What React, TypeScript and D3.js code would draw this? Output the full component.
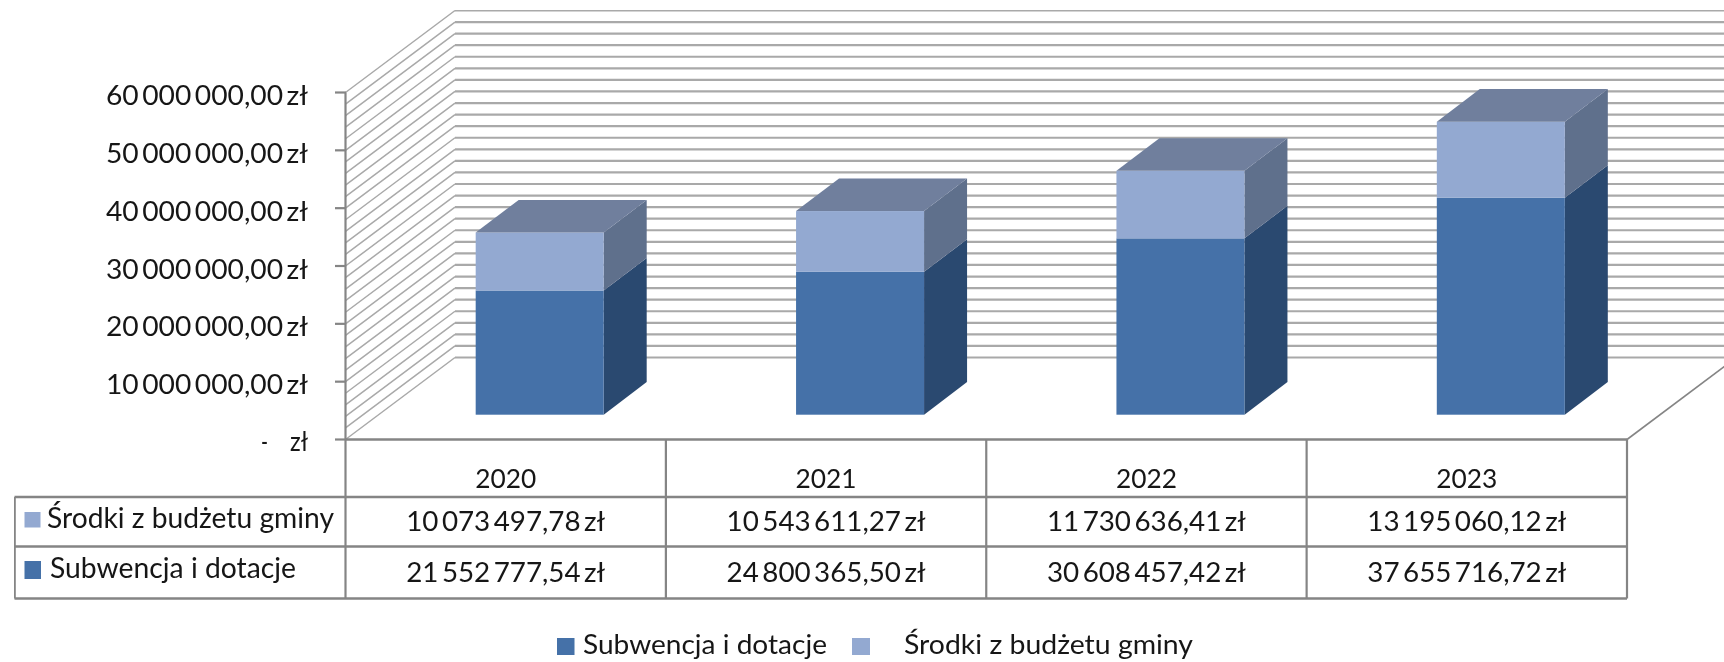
import React from "react";
import * as d3 from "d3";

const years = ["2020", "2021", "2022", "2023"];
const subwencja = [21552777.54, 24800365.5, 30608457.42, 37655716.72];
const srodki = [10073497.78, 10543611.27, 11730636.41, 13195060.12];
const nameSub = "Subwencja i dotacje";
const nameSro = "Środki z budżetu gminy";

const W = 1724, H = 662;
const FONT = "Lato, 'Open Sans', sans-serif";
const TEXT = "#161616";
const GRID = "#a9a9a9";
const AXIS = "#858585";

const y = d3.scaleLinear().domain([0, 60000000]).range([439.5, 92.5]);
const yBar = d3.scaleLinear().domain([0, 60000000]).range([414.7, 69]);
const x = d3.scaleBand<string>().domain(years).range([345.5, 1627]).paddingInner(0).paddingOuter(0);
const wall = { dx: 109.5, dy: -82 };
const barFrontDx = 34;
const barDepth = { dx: 43, dy: -32.6 };
const barW = 128;

const pl = d3.formatLocale({ decimal: ",", thousands: "\u2009", grouping: [3], currency: ["", " zł"] });
const fmt = pl.format(",.2f");
const money = (v: number) => `${fmt(v)}\u2009zł`;

const rows = years.map((year, i) => ({ year, sub: subwencja[i], sro: srodki[i] }));
const stacked = d3.stack<any>().keys(["sub", "sro"])(rows);

const colors = {
  sub: { front: "#4571a8", side: "#2a486f" },
  sro: { front: "#93a9d1", side: "#5f6f8c", top: "#6f7f9d" },
};

const poly = (pts: [number, number][]) => pts.map((p) => p.join(",")).join(" ");

function Txt(props: { x: number; y: number; w: number; size?: number; anchor?: string; children: string }) {
  const { x: tx, y: ty, w, size = 27, anchor = "start", children } = props;
  return (
    <text x={tx} y={ty} fontFamily={FONT} fontSize={size} fill={TEXT} textAnchor={anchor}
      textLength={w} lengthAdjust="spacingAndGlyphs">{children}</text>
  );
}

export default function App() {
  const gridVals = d3.range(0, 60000001, 2000000);
  const major = y.ticks(6);
  const band = x.bandwidth();
  const tableTop = y(0);
  const yHead = 497, yRow1 = 546.5, yBottom = 598.5;
  const tableLeft = 14.5, right = x.range()[1];
  return (
    <svg width={W} height={H} viewBox={`0 0 ${W} ${H}`} style={{ position: "absolute", left: 0, top: 0, display: "block", background: "#fff" }}>
      <defs>
        <filter id="soft" x="0" y="0" width="100%" height="100%">
          <feGaussianBlur stdDeviation="0.6" />
        </filter>
      </defs>
      <g filter="url(#soft)">
        {/* walls */}
        {gridVals.map((v) => (
          <g key={v}>
            <line x1={x.range()[0]} y1={y(v)} x2={x.range()[0] + wall.dx} y2={y(v) + wall.dy} stroke={GRID} strokeWidth={1.5} />
            <line x1={x.range()[0] + wall.dx} y1={y(v) + wall.dy} x2={W} y2={y(v) + wall.dy} stroke={GRID} strokeWidth={2.2} />
          </g>
        ))}
        <line x1={right} y1={y(0)} x2={right + wall.dx} y2={y(0) + wall.dy} stroke={AXIS} strokeWidth={1.6} />

        {/* bars */}
        {years.map((yr, i) => {
          const x0 = (x(yr) as number) + (band - barW) / 2 + barFrontDx;
          const x1 = x0 + barW;
          return (
            <g key={yr}>
              {stacked.map((s) => {
                const c: any = (colors as any)[s.key];
                const yb = yBar(s[i][0]);
                const yt = yBar(s[i][1]);
                return (
                  <g key={s.key}>
                    <polygon points={poly([[x1, yb], [x1 + barDepth.dx, yb + barDepth.dy], [x1 + barDepth.dx, yt + barDepth.dy], [x1, yt]])} fill={c.side} />
                    <rect x={x0} y={yt} width={barW} height={yb - yt} fill={c.front} />
                    {c.top && <polygon points={poly([[x0, yt], [x0 + barDepth.dx, yt + barDepth.dy], [x1 + barDepth.dx, yt + barDepth.dy], [x1, yt]])} fill={c.top} />}
                  </g>
                );
              })}
            </g>
          );
        })}

        {/* y axis */}
        <line x1={x.range()[0]} y1={y(60000000)} x2={x.range()[0]} y2={yBottom} stroke={AXIS} strokeWidth={2.2} />
        {major.map((t) => (
          <g key={t}>
            <line x1={335} y1={y(t)} x2={346} y2={y(t)} stroke={AXIS} strokeWidth={2.2} />
            {t === 0 ? (
              <>
                <Txt x={261} y={y(t) + 11} w={7}>-</Txt>
                <Txt x={290} y={y(t) + 11} w={18}>zł</Txt>
              </>
            ) : (
              <Txt x={106} y={y(t) + 12.5} w={202}>{money(t)}</Txt>
            )}
          </g>
        ))}

        {/* data table */}
        <line x1={x.range()[0]} y1={tableTop} x2={right} y2={tableTop} stroke={AXIS} strokeWidth={2.4} />
        {[yHead, yRow1, yBottom].map((ly) => (
          <line key={ly} x1={tableLeft} y1={ly} x2={right} y2={ly} stroke={AXIS} strokeWidth={2.6} />
        ))}
        <line x1={tableLeft} y1={yHead} x2={tableLeft} y2={yBottom} stroke={AXIS} strokeWidth={2.6} />
        {years.map((yr) => (
          <line key={yr} x1={(x(yr) as number) + band} y1={tableTop} x2={(x(yr) as number) + band} y2={yBottom} stroke={AXIS} strokeWidth={2.2} />
        ))}
        {years.map((yr, i) => {
          const cx = (x(yr) as number) + band / 2;
          return (
            <g key={yr}>
              <Txt x={cx} y={488} w={61} size={26.5} anchor="middle">{yr}</Txt>
              <Txt x={cx} y={530.5} w={199} anchor="middle">{money(srodki[i])}</Txt>
              <Txt x={cx} y={582} w={199} anchor="middle">{money(subwencja[i])}</Txt>
            </g>
          );
        })}
        <rect x={24.5} y={512} width={16} height={15.5} fill={colors.sro.front} />
        <Txt x={47} y={528} w={287} size={28}>{nameSro}</Txt>
        <rect x={24.5} y={561} width={16.5} height={18} fill={colors.sub.front} />
        <Txt x={50} y={578} w={246} size={28}>{nameSub}</Txt>

        {/* legend */}
        <rect x={557} y={638} width={17.5} height={17} fill={colors.sub.front} />
        <Txt x={583} y={654} w={244} size={27}>{nameSub}</Txt>
        <rect x={852} y={638} width={18} height={17} fill={colors.sro.front} />
        <Txt x={904} y={654} w={289} size={27}>{nameSro}</Txt>
      </g>
    </svg>
  );
}
